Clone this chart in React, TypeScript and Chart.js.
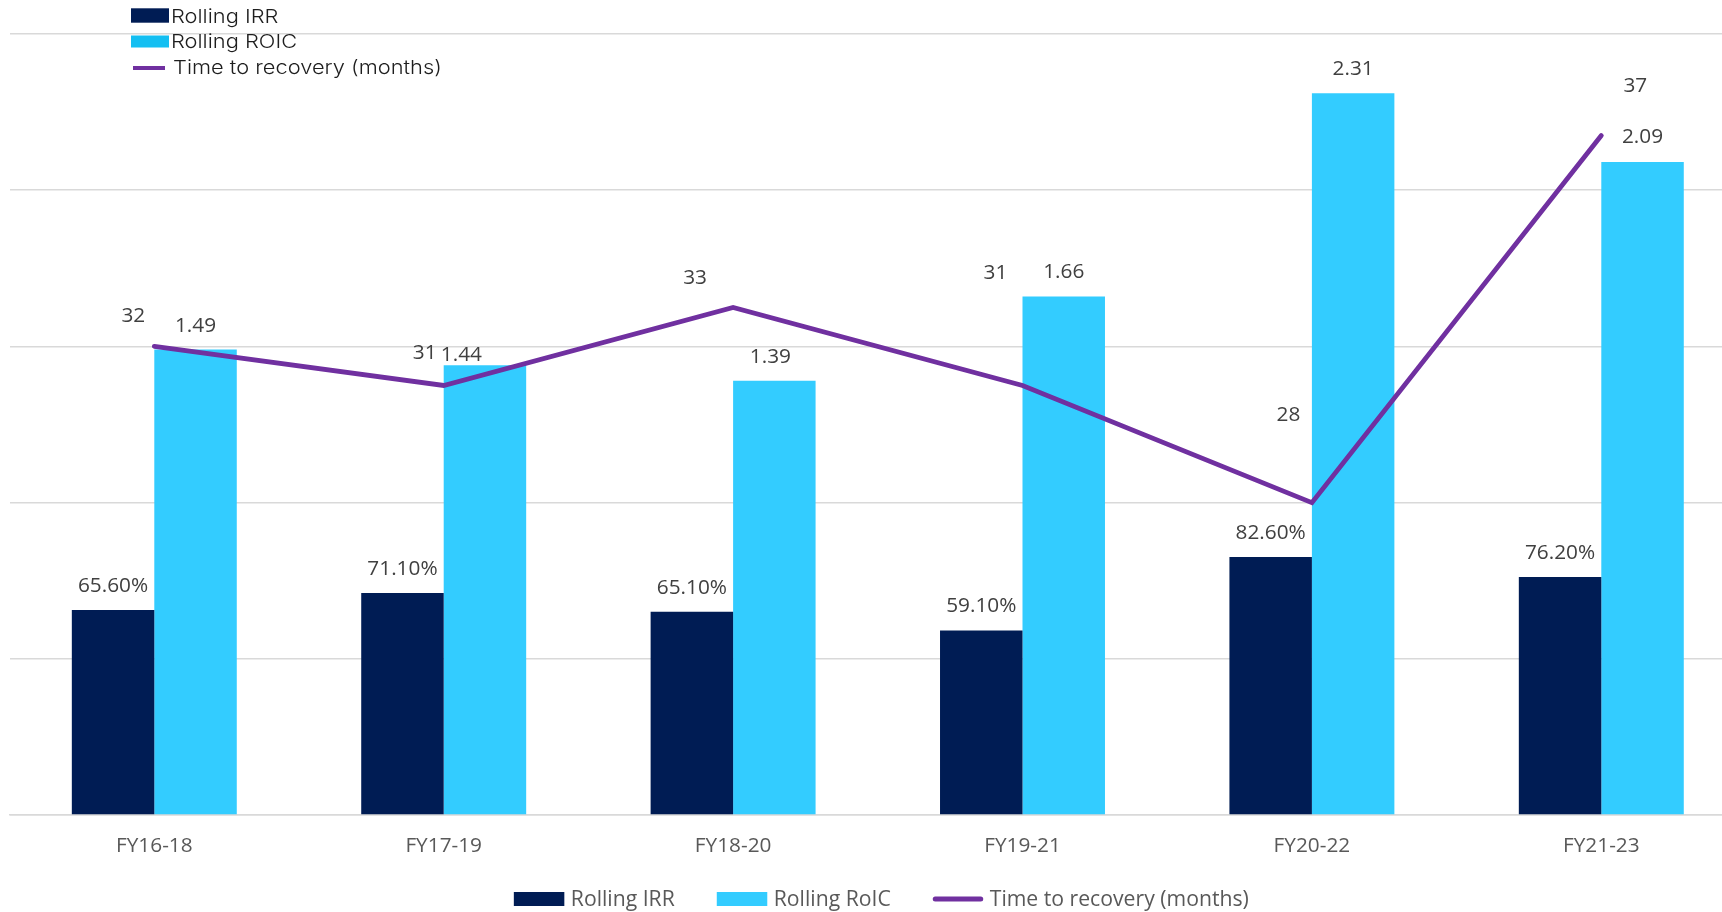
import React, { useEffect, useRef } from "react";
import { Chart, registerables } from "chart.js";

Chart.register(...registerables);

const categories = ["FY16-18", "FY17-19", "FY18-20", "FY19-21", "FY20-22", "FY21-23"];
const rollingIrr = [0.656, 0.711, 0.651, 0.591, 0.826, 0.762];
const rollingRoic = [1.49, 1.44, 1.39, 1.66, 2.31, 2.09];
const timeToRecovery = [32, 31, 33, 31, 28, 37.4];

const seriesNames = ["Rolling IRR", "Rolling RoIC", "Time to recovery (months)"];
const topLegendNames = ["Rolling IRR", "Rolling ROIC", "Time to recovery (months)"];

// label placement offsets (dx, dy from the mark's top/point to the text baseline centre)
const irrLabelOffsets = [[0, -18], [0, -18], [0, -18], [0, -18], [0, -18], [0, -18]];
const roicLabelOffsets = [[0, -18], [-23.5, -4.6], [-4, -18], [0, -18], [0, -18], [0, -19]];
const lineLabelOffsets = [[-21, -24.5], [-19, -26], [-38, -23], [-27, -106.5], [-23.5, -81.5], [34, -44]];

const NAVY = "#001C54";
const CYAN = "#33CCFF";
const PURPLE = "#7030A0";
const GRID = "#D9D9D9";
const FONT = "'Open Sans', sans-serif";
const W = 1746;
const H = 912;

const valueLabels = {
  id: "valueLabels",
  afterDatasetsDraw(chart: any) {
    const ctx = chart.ctx;
    ctx.save();
    ctx.font = `20.8px ${FONT}`;
    ctx.fillStyle = "#404040";
    ctx.textAlign = "center";
    ctx.textBaseline = "alphabetic";
    const draw = (di: number, fmt: (v: number) => string, offs: number[][]) => {
      const meta = chart.getDatasetMeta(di);
      const data = chart.data.datasets[di].data as number[];
      meta.data.forEach((el: any, i: number) => {
        ctx.fillText(fmt(data[i]), el.x + offs[i][0], el.y + offs[i][1]);
      });
    };
    draw(0, (v) => (v * 100).toFixed(2) + "%", irrLabelOffsets);
    draw(1, (v) => v.toFixed(2), roicLabelOffsets);
    draw(2, (v) => Math.round(v).toString(), lineLabelOffsets);
    ctx.restore();
  },
};

const topLegend = {
  id: "topLegend",
  afterDraw(chart: any) {
    const ctx = chart.ctx;
    ctx.save();
    const rows = [22.7, 47.5, 74];
    ctx.font = `300 19px Inter, ${FONT}`;
    ctx.textBaseline = "alphabetic";
    ctx.textAlign = "left";
    ctx.fillStyle = NAVY;
    ctx.fillRect(131, 8.3, 38, 14.4);
    ctx.fillStyle = "#14BFF2";
    ctx.fillRect(131, 35.5, 38, 12);
    ctx.strokeStyle = PURPLE;
    ctx.lineWidth = 4;
    ctx.beginPath();
    ctx.moveTo(133, 68);
    ctx.lineTo(165, 68);
    ctx.stroke();
    ctx.fillStyle = "#1E1E1E";
    const xs = [171, 171, 173];
    topLegendNames.forEach((t, i) => {
      ctx.save();
      ctx.translate(xs[i], rows[i]);
      ctx.scale(1.15, 1);
      ctx.fillText(t, 0, 0);
      ctx.restore();
    });
    ctx.restore();
  },
};

const bottomLegend = {
  id: "bottomLegend",
  afterDraw(chart: any) {
    const ctx = chart.ctx;
    ctx.save();
    ctx.font = `21.2px ${FONT}`;
    ctx.textBaseline = "alphabetic";
    ctx.textAlign = "left";
    const box = 50.5;
    const gap = 6.5;
    const itemGap = 42;
    const widths = seriesNames.map((t) => box + gap + ctx.measureText(t).width);
    const total = widths.reduce((a, b) => a + b, 0) + itemGap * (seriesNames.length - 1);
    let x = 881.3 - total / 2;
    const cy = 899;
    const baseline = 905.9;
    seriesNames.forEach((t, i) => {
      if (i < 2) {
        ctx.fillStyle = i === 0 ? NAVY : CYAN;
        ctx.fillRect(x, cy - 7, box, 14);
      } else {
        ctx.strokeStyle = PURPLE;
        ctx.lineWidth = 5;
        ctx.lineCap = "round";
        ctx.beginPath();
        ctx.moveTo(x + 2.5, cy);
        ctx.lineTo(x + box - 2.5, cy);
        ctx.stroke();
      }
      ctx.fillStyle = "#595959";
      ctx.fillText(t, x + box + gap, baseline);
      x += widths[i] + itemGap;
    });
    ctx.restore();
  },
};

export default function App() {
  const ref = useRef<HTMLCanvasElement | null>(null);

  useEffect(() => {
    if (!ref.current) return;
    const chart = new Chart(ref.current, {
      type: "bar",
      data: {
        labels: categories,
        datasets: [
          {
            type: "bar",
            label: seriesNames[0],
            data: rollingIrr,
            backgroundColor: NAVY,
            borderWidth: 0,
            yAxisID: "y",
            order: 1,
            categoryPercentage: 0.57,
            barPercentage: 1,
          },
          {
            type: "bar",
            label: seriesNames[1],
            data: rollingRoic,
            backgroundColor: CYAN,
            borderWidth: 0,
            yAxisID: "y",
            order: 1,
            categoryPercentage: 0.57,
            barPercentage: 1,
          },
          {
            type: "line",
            label: seriesNames[2],
            data: timeToRecovery,
            borderColor: PURPLE,
            backgroundColor: PURPLE,
            borderWidth: 4.8,
            borderCapStyle: "round",
            borderJoinStyle: "miter",
            pointRadius: 0,
            pointHoverRadius: 0,
            tension: 0,
            fill: false,
            yAxisID: "y1",
            order: 0,
          },
        ],
      },
      options: {
        responsive: false,
        animation: false,
        devicePixelRatio: 1,
        layout: { padding: { left: 9.6, right: 0, top: 34, bottom: 34 } },
        plugins: {
          legend: { display: false },
          tooltip: { enabled: false },
          title: { display: false },
        },
        scales: {
          x: {
            grid: { display: false, drawTicks: false },
            border: { display: true, color: GRID, width: 1.5 },
            ticks: {
              padding: 19,
              color: "#595959",
              font: { family: FONT, size: 20.8 },
              maxRotation: 0,
              autoSkip: false,
            },
          },
          y: {
            min: 0,
            max: 2.5,
            ticks: { display: false, stepSize: 0.5 },
            grid: { color: GRID, lineWidth: 1.5, drawTicks: false },
            border: { display: false },
          },
          y1: {
            min: 20,
            max: 40,
            display: false,
            position: "right",
            grid: { display: false },
          },
        },
      },
      plugins: [valueLabels, topLegend, bottomLegend],
    });
    return () => chart.destroy();
  }, []);

  return (
    <div
      style={{
        position: "fixed",
        left: 0,
        top: 0,
        width: "1722px",
        height: "912px",
        overflow: "hidden",
        background: "#FFFFFF",
      }}
    >
      <canvas
        ref={ref}
        width={W}
        height={H}
        style={{ position: "absolute", left: 0, top: 0, width: `${W}px`, height: `${H}px` }}
      />
    </div>
  );
}
